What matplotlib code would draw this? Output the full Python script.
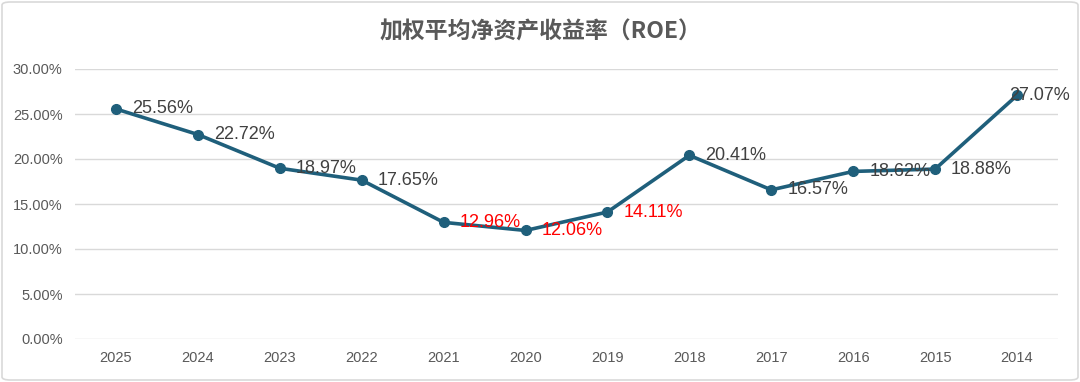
import matplotlib
matplotlib.use("Agg")
import matplotlib.pyplot as plt
from matplotlib.patches import FancyBboxPatch
from matplotlib.ticker import FuncFormatter

plt.rcParams['font.family'] = ['Liberation Sans', 'Noto Sans CJK SC', 'DejaVu Sans']

title = "加权平均净资产收益率（ROE）"
years = ["2025", "2024", "2023", "2022", "2021", "2020", "2019", "2018", "2017", "2016", "2015", "2014"]
roe = [25.56, 22.72, 18.97, 17.65, 12.96, 12.06, 14.11, 20.41, 16.57, 18.62, 18.88, 27.07]
highlight_years = ["2021", "2020", "2019"]
yticks = [0, 5, 10, 15, 20, 25, 30]

W, H, DPI = 1080, 382, 100
fig = plt.figure(figsize=(W / DPI, H / DPI), dpi=DPI)
fig.patch.set_facecolor("white")

# outer rounded border
border = FancyBboxPatch((2 / W, 2 / H), 1 - 4 / W, 1 - 4 / H,
                        boxstyle="round,pad=0,rounding_size=0.008",
                        transform=fig.transFigure, facecolor="none",
                        edgecolor="#d9d9d9", linewidth=1.2)
fig.patches.append(border)

ax = fig.add_axes([75 / W, 43 / H, (1058 - 75) / W, (339 - 69) / H])
x = list(range(len(years)))
line_color = "#1F5F7B"
ax.plot(x, roe, color=line_color, linewidth=2.6, marker="o", markersize=7,
        markerfacecolor=line_color, markeredgecolor=line_color, zorder=3,
        solid_capstyle="round", solid_joinstyle="round")

ax.set_xlim(-0.5, len(years) - 0.5)
ax.set_ylim(0, 30)
ax.set_yticks(yticks)
ax.yaxis.set_major_formatter(FuncFormatter(lambda v, p: f"{v:.2f}%"))
ax.set_xticks(x)
ax.set_xticklabels(years)
ax.tick_params(axis="both", length=0, labelsize=10.5, colors="#595959")
ax.tick_params(axis="y", pad=9)
ax.tick_params(axis="x", pad=9)
ax.grid(axis="y", color="#d9d9d9", linewidth=1.0)
ax.set_axisbelow(True)
for s in ax.spines.values():
    s.set_visible(False)

for i, (yr, v) in enumerate(zip(years, roe)):
    col = "#FF0000" if yr in highlight_years else "#404040"
    dx = -6 if i == len(years) - 1 else 11.5
    ax.annotate(f"{v:.2f}%", (i, v), xytext=(dx, 0), textcoords="offset points",
                ha="left", va="center", fontsize=13, color=col, zorder=4)

fig.text(0.5, 1 - 32 / H, title, ha="center", va="center", fontsize=16.5,
         fontweight="bold", color="#595959",
         family=["Noto Sans CJK SC", "DejaVu Sans"])

fig.savefig("out.png", dpi=DPI, facecolor="white")
